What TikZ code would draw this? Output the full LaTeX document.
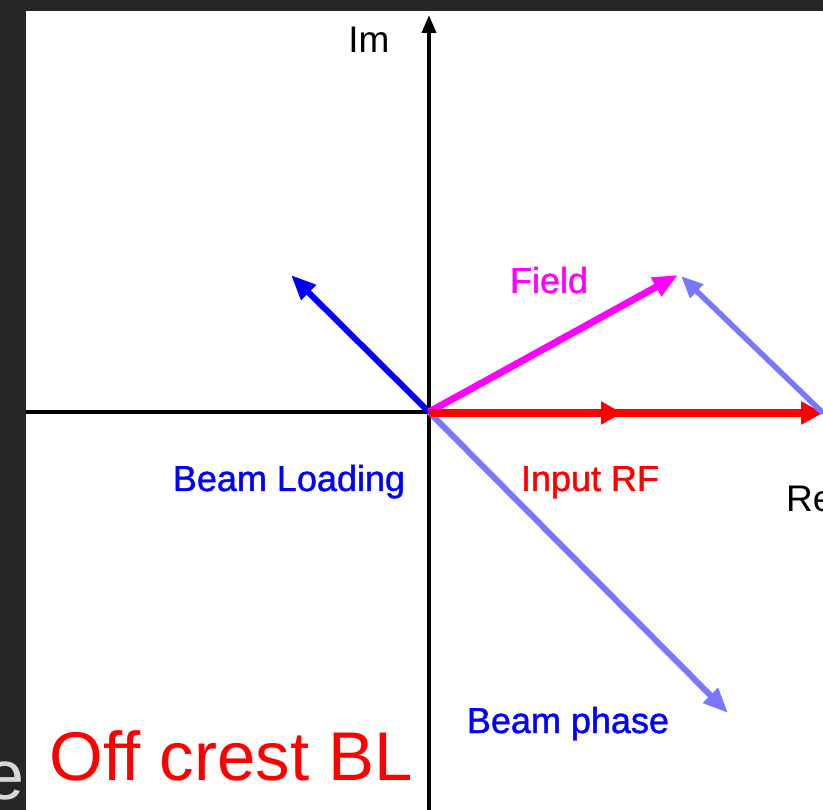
\documentclass[tikz,border=0pt]{standalone}
\usepackage{fontspec}
\setmainfont{Liberation Sans}
\newfontfamily\lblfont[FakeBold=1.2]{Liberation Sans}
\usetikzlibrary{arrows.meta,decorations.markings}
\definecolor{darkbg}{HTML}{262626}
\definecolor{lightblue}{RGB}{120,120,255}
\definecolor{magentaF}{RGB}{255,0,255}
\definecolor{pureblue}{RGB}{0,0,255}
\definecolor{purered}{RGB}{255,0,0}
\definecolor{grayE}{RGB}{215,215,215}
\tikzset{
  lbl/.style={inner sep=0pt, anchor=base, font=\fontsize{37}{37}\selectfont},
  clbl/.style={inner sep=0pt, anchor=base, font=\lblfont\fontsize{36}{36}\selectfont},
  axisline/.style={draw=black, line width=3.8pt},
  bigtip/.style={-{Triangle[length=25pt,width=20pt]}},
}
\begin{document}
\begin{tikzpicture}[x=1pt,y=-1pt]
\useasboundingbox (0,0) rectangle (823,810);
\fill[darkbg] (0,0) rectangle (823,810);
\fill[white] (26,11) rectangle (823,810);
% coordinates
\coordinate (O) at (429,412);
\coordinate (axL) at (26,412);
\coordinate (axR) at (823,412);
\coordinate (axB) at (429,810);
\coordinate (axT) at (429,15);
\coordinate (BL) at (291,275);
\coordinate (F) at (678,275);
\coordinate (RF) at (823,413);
\coordinate (RFs) at (429,413);
\coordinate (Ftip) at (681,276);
\coordinate (BP) at (728,713);
% axes
\draw[axisline] (axL) -- (axR);
\draw[axisline,-{Triangle[length=18pt,width=14pt]}] (axB) -- (axT);
% beam phase
\draw[lightblue, line width=6pt, bigtip] (O) -- (BP);
% beam loading
\draw[pureblue, line width=6pt, bigtip] (O) -- (BL);
% field
\draw[magentaF, line width=7pt, bigtip] (O) -- (F);
% input RF
\draw[purered, line width=8pt, -{Triangle[length=22pt,width=22pt]},
  postaction={decorate},
  decoration={markings, mark=at position 0.49 with {\arrow{Triangle[length=21pt,width=22pt]}}}]
  (RFs) -- (RF);
% return line
\draw[lightblue, line width=5.5pt, -{Triangle[length=22pt,width=18pt]}] (RF) -- (Ftip);
% labels
\node[lbl] (im) at (369,53) {Im};
\node[lbl, anchor=base west] (re) at (786,512) {Re};
\node[clbl, text=magentaF] (field) at (549,293) {Field};
\node[clbl, text=pureblue] (bload) at (289,491) {Beam Loading};
\node[clbl, text=purered] (inrf) at (590,491) {Input RF};
\node[clbl, text=pureblue] (bphase) at (568,733) {Beam phase};
\node[inner sep=0pt, anchor=base, text=purered, font=\fontsize{69}{69}\selectfont] (title) at (231.5,780) {Off crest BL};
\node[inner sep=0pt, anchor=base east, text=grayE, font=\fontsize{70}{70}\selectfont] (ee) at (25,799) {e};
\end{tikzpicture}
\end{document}
